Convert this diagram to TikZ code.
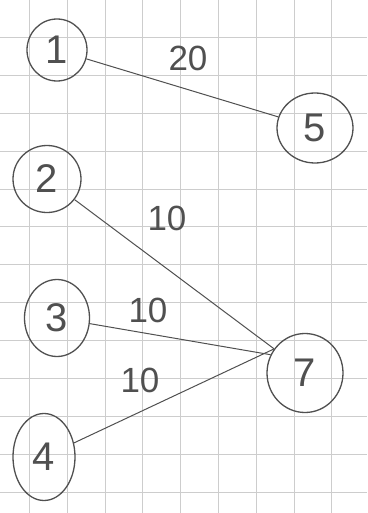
\documentclass[tikz,border=0pt]{standalone}
\usepackage{fontspec}
\setmainfont{Liberation Sans}
\usepackage{tikz}
\usetikzlibrary{shapes.geometric}

\definecolor{pencil}{HTML}{505050}
\definecolor{gridline}{HTML}{CDCDCD}

\tikzset{
    vertex/.style={ellipse, draw=pencil, line width=1.3pt, inner sep=0pt,
        text=pencil, font=\fontsize{40}{40}\selectfont},
    edge/.style={draw=pencil, line width=1pt},
    weight/.style={text=pencil, font=\fontsize{35}{35}\selectfont}
}

\begin{document}
\begin{tikzpicture}[x=1pt, y=-1pt]

    % =================================================================
    % 1. NỀN GIẤY KẺ Ô
    % =================================================================
    \useasboundingbox (0,0) rectangle (367,513);
    \fill[white] (0,0) rectangle (367,513);
    \foreach \gx in {0,...,9} {
        \draw[gridline, line width=0.9pt] ({29.5+37.8*\gx},0) -- ({29.5+37.8*\gx},513);
    }
    \foreach \gy in {0,...,13} {
        \draw[gridline, line width=0.9pt] (0,{-0.5+37.9*\gy}) -- (367,{-0.5+37.9*\gy});
    }

    % =================================================================
    % 2. CÁC ĐỈNH CỦA ĐỒ THỊ
    % =================================================================
    \node[vertex, minimum width=60pt, minimum height=62pt] (v1) at (57,50) {1};
    \node[vertex, minimum width=68pt, minimum height=67pt] (v2) at (47,179) {2};
    \node[vertex, minimum width=65pt, minimum height=77pt] (v3) at (57,318) {3};
    \node[vertex, minimum width=62pt, minimum height=87pt] (v4) at (44,457) {4};
    \node[vertex, minimum width=76pt, minimum height=70pt] (v5) at (315,128) {5};
    \node[vertex, minimum width=76pt, minimum height=79pt] (v7) at (305,373) {7};

    % =================================================================
    % 3. CÁC CẠNH
    % =================================================================
    \draw[edge] (v1) -- (v5);
    \draw[edge] (v2) -- (v7.142);
    \draw[edge] (v3) -- (v7.152);
    \draw[edge] (v4) -- (v7.142);

    % =================================================================
    % 4. TRỌNG SỐ
    % =================================================================
    \node[weight] (w15) at (188,58) {20};
    \node[weight] (w27) at (167,218) {10};
    \node[weight] (w37) at (148,310) {10};
    \node[weight] (w47) at (140,380) {10};

\end{tikzpicture}
\end{document}
